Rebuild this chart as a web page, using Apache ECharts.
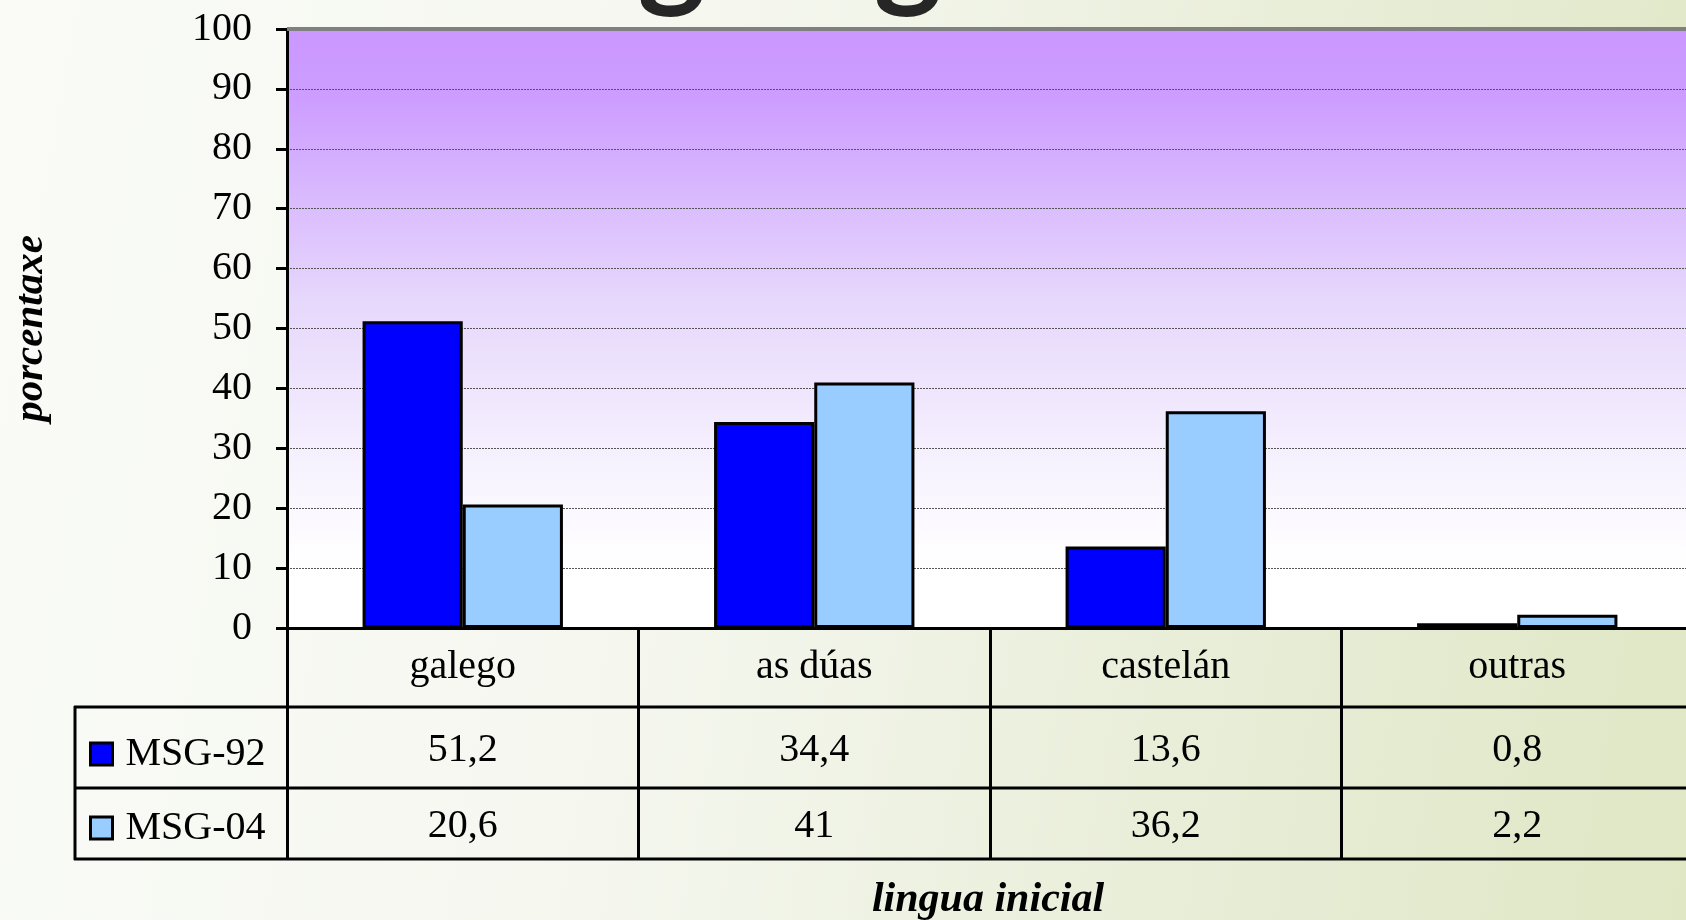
<!DOCTYPE html>
<html>
<head>
<meta charset="utf-8">
<script src="https://cdn.jsdelivr.net/npm/echarts@6/dist/echarts.min.js"></script>
<style>
html,body{margin:0;padding:0;width:1686px;height:920px;overflow:hidden;
background:linear-gradient(100deg,#fafbf7 0%,#f5f7ef 40%,#e9eed9 70%,#dfe7c5 100%);}
#c{width:1686px;height:920px;}
</style>
</head>
<body>
<div id="c"></div>
<script>
const categories = ['galego', 'as dúas', 'castelán', 'outras'];
const seriesNames = ['MSG-92', 'MSG-04'];
const msg92 = [51.2, 34.4, 13.6, 0.8];
const msg04 = [20.6, 41, 36.2, 2.2];
const yTicks = { min: 0, max: 100, interval: 10 };
const yAxisTitle = 'porcentaxe';
const xAxisTitle = 'lingua inicial';
const slideTitle = 'Transmisión do galego';

const fmt = v => String(v).replace('.', ',');
const SERIF = '"Liberation Serif","Times New Roman",serif';

const chart = echarts.init(document.getElementById('c'), null, { renderer: 'canvas' });

const valueAxis = (data, margin) => ({
  type: 'category', gridIndex: 0, position: 'bottom', data: data.map(fmt),
  axisLine: { show: false }, axisTick: { show: false }, splitLine: { show: false },
  axisLabel: { margin: margin, verticalAlign: 'middle', fontSize: 40, color: '#000', fontFamily: SERIF, interval: 0 }
});

chart.setOption({
  backgroundColor: 'transparent',
  animation: false,
  grid: {
    left: 287, right: -7, top: 29, bottom: 292, show: true, borderWidth: 0,
    containLabel: false, outerBoundsMode: 'none',
    backgroundColor: {
      type: 'linear', x: 0, y: 0, x2: 0, y2: 1,
      colorStops: [
        { offset: 0, color: '#ca97ff' },
        { offset: 0.12, color: '#cd9eff' },
        { offset: 0.45, color: '#e6d7fc' },
        { offset: 0.75, color: '#f8f4fe' },
        { offset: 0.9, color: '#ffffff' },
        { offset: 1, color: '#ffffff' }
      ]
    }
  },
  legend: {
    data: seriesNames, orient: 'vertical', left: 84, top: 729,
    itemWidth: 22, itemHeight: 22, itemGap: 34, icon: 'rect',
    itemStyle: { borderColor: '#000', borderWidth: 3 },
    textStyle: { fontSize: 40, color: '#000', fontFamily: SERIF, padding: [0, 0, 0, 8] },
    selectedMode: false
  },
  xAxis: [
    {
      type: 'category', data: categories, gridIndex: 0, position: 'bottom',
      axisLine: { show: true, lineStyle: { color: '#000', width: 3 } },
      axisTick: { show: true, length: 231, lineStyle: { color: '#000', width: 3 } },
      axisLabel: { margin: 39, verticalAlign: 'middle', fontSize: 40, color: '#000', fontFamily: SERIF, interval: 0 },
      splitLine: { show: false }
    },
    valueAxis(msg92, 122),
    valueAxis(msg04, 198)
  ],
  yAxis: {
    type: 'value', min: yTicks.min, max: yTicks.max, interval: yTicks.interval,
    name: yAxisTitle, nameLocation: 'middle', nameRotate: 90, nameGap: 235,
    nameTextStyle: { fontSize: 41, fontStyle: 'italic', fontWeight: 'bold', color: '#000', fontFamily: SERIF },
    axisLine: { show: true, lineStyle: { color: '#000', width: 3 } },
    axisTick: { show: true, length: 11, lineStyle: { color: '#000', width: 3 } },
    axisLabel: { margin: 35, fontSize: 40, color: '#000', fontFamily: SERIF },
    splitLine: { show: true, lineStyle: { color: '#555', width: 1, type: [2, 1] } }
  },
  series: [
    {
      name: seriesNames[0], type: 'bar', data: msg92, xAxisIndex: 0,
      barGap: '0%', barCategoryGap: '43%',
      itemStyle: { color: '#0000ff', borderColor: '#000', borderWidth: 3 }
    },
    {
      name: seriesNames[1], type: 'bar', data: msg04, xAxisIndex: 0,
      barGap: '0%', barCategoryGap: '43%',
      itemStyle: { color: '#99ccff', borderColor: '#000', borderWidth: 3 }
    }
  ],
  graphic: [
    { type: 'line', shape: { x1: 287, y1: 29, x2: 1686, y2: 29 }, style: { stroke: '#808080', lineWidth: 4 }, z: 10 },
    { type: 'line', shape: { x1: 74, y1: 707, x2: 1686, y2: 707 }, style: { stroke: '#000', lineWidth: 3 } },
    { type: 'line', shape: { x1: 74, y1: 788, x2: 1686, y2: 788 }, style: { stroke: '#000', lineWidth: 3 } },
    { type: 'line', shape: { x1: 74, y1: 859, x2: 1686, y2: 859 }, style: { stroke: '#000', lineWidth: 3 } },
    { type: 'line', shape: { x1: 75, y1: 706, x2: 75, y2: 860 }, style: { stroke: '#000', lineWidth: 3 } },
    { type: 'text', x: 988, y: 900, style: { text: xAxisTitle, align: 'center', verticalAlign: 'middle',
      font: 'italic bold 42px ' + SERIF, fill: '#000' } },
    { type: 'text', x: 1016, y: 16, style: { text: slideTitle, align: 'right', verticalAlign: 'bottom',
      font: 'bold 130px Lato, "Open Sans", sans-serif', fill: '#262626' } }
  ]
});
</script>
</body>
</html>
